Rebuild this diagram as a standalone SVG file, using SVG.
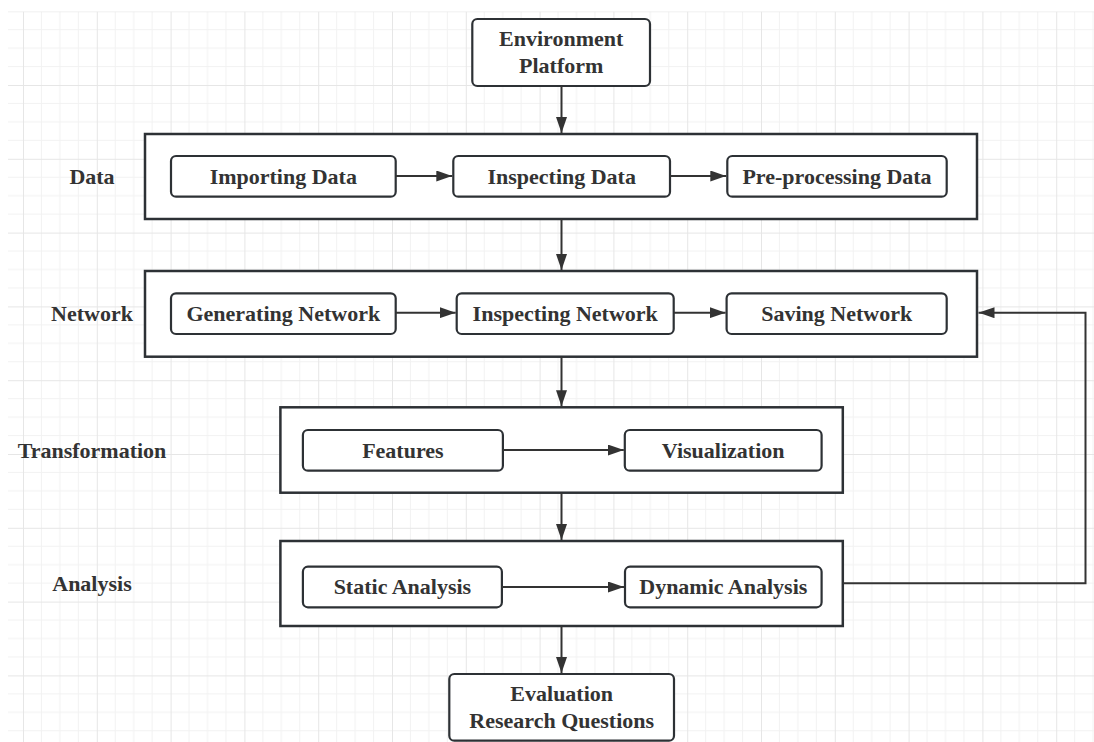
<svg xmlns="http://www.w3.org/2000/svg" width="1094" height="742" viewBox="0 0 1094 742">
  <defs>
    <pattern id="grid" patternUnits="userSpaceOnUse" x="23" y="11.2" width="73.8" height="73.8">
      <path d="M18.45 0V73.8M36.9 0V73.8M55.35 0V73.8M0 18.45H73.8M0 36.9H73.8M0 55.35H73.8" stroke="#f2f2f2" stroke-width="1" fill="none"/>
      <path d="M0.5 0V73.8M0 0.5H73.8" stroke="#e6e6e6" stroke-width="1" fill="none"/>
    </pattern>
    <marker id="arrow" markerUnits="userSpaceOnUse" markerWidth="16" markerHeight="11" refX="16" refY="5.5" orient="auto">
      <path d="M0 0L16 5.5L0 11Z" fill="#333"/>
    </marker>
    <style>
      .stage { fill: #fff; stroke: #2d3135; stroke-width: 2.5; }
      .box { fill: #fff; stroke: #2d3135; stroke-width: 2.2; }
      .txt { font-family: "Liberation Serif", "Times New Roman", serif; font-weight: bold; font-size: 22px; fill: #333; text-anchor: middle; }
      .conn { stroke: #333; stroke-width: 2; fill: none; }
    </style>
  </defs>

  <!-- background grid -->
  <rect width="1094" height="742" fill="#fff"/>
  <rect x="8" y="11.5" width="1086" height="731" fill="url(#grid)"/>

  <!-- stage labels -->
  <g id="label-data"><text class="txt" x="92" y="183.5">Data</text></g>
  <g id="label-network"><text class="txt" x="92" y="320.5">Network</text></g>
  <g id="label-transformation"><text class="txt" x="92" y="457.5">Transformation</text></g>
  <g id="label-analysis"><text class="txt" x="92" y="591">Analysis</text></g>

  <!-- stage containers -->
  <g id="stage-data"><rect class="stage" x="145" y="134" width="832" height="85"/></g>
  <g id="stage-network"><rect class="stage" x="145" y="271" width="832" height="85.7"/></g>
  <g id="stage-transformation"><rect class="stage" x="280.4" y="407.3" width="562.4" height="85.4"/></g>
  <g id="stage-analysis"><rect class="stage" x="280.4" y="541" width="562.4" height="85"/></g>

  <!-- nodes -->
  <g id="environment-platform">
    <rect class="box" x="472.3" y="19" width="177.7" height="67" rx="5"/>
    <text class="txt" x="561.2" y="46">Environment</text>
    <text class="txt" x="561.2" y="73">Platform</text>
  </g>
  <g id="importing-data">
    <rect class="box" x="171" y="156" width="224.7" height="40.7" rx="5"/>
    <text class="txt" x="283.3" y="183.5">Importing Data</text>
  </g>
  <g id="inspecting-data">
    <rect class="box" x="453.3" y="156" width="216.7" height="40.7" rx="5"/>
    <text class="txt" x="561.7" y="183.5">Inspecting Data</text>
  </g>
  <g id="preprocessing-data">
    <rect class="box" x="727.3" y="156" width="219.4" height="40.7" rx="5"/>
    <text class="txt" x="837" y="183.5">Pre-processing Data</text>
  </g>
  <g id="generating-network">
    <rect class="box" x="171" y="293.3" width="224.7" height="40.7" rx="5"/>
    <text class="txt" x="283.3" y="320.5">Generating Network</text>
  </g>
  <g id="inspecting-network">
    <rect class="box" x="456.7" y="293.3" width="217" height="40.7" rx="5"/>
    <text class="txt" x="565.2" y="320.5">Inspecting Network</text>
  </g>
  <g id="saving-network">
    <rect class="box" x="726.6" y="293.3" width="220.1" height="40.7" rx="5"/>
    <text class="txt" x="836.7" y="320.5">Saving Network</text>
  </g>
  <g id="features">
    <rect class="box" x="302.9" y="430" width="200" height="40.7" rx="5"/>
    <text class="txt" x="402.9" y="457.5">Features</text>
  </g>
  <g id="visualization">
    <rect class="box" x="624.8" y="430" width="196.8" height="40.7" rx="5"/>
    <text class="txt" x="723.2" y="457.5">Visualization</text>
  </g>
  <g id="static-analysis">
    <rect class="box" x="302.9" y="566.7" width="199" height="40.6" rx="5"/>
    <text class="txt" x="402.4" y="594">Static Analysis</text>
  </g>
  <g id="dynamic-analysis">
    <rect class="box" x="625" y="566.7" width="196.6" height="40.6" rx="5"/>
    <text class="txt" x="723.3" y="594">Dynamic Analysis</text>
  </g>
  <g id="evaluation">
    <rect class="box" x="449.3" y="674" width="224.7" height="66.7" rx="5"/>
    <text class="txt" x="561.7" y="700.5">Evaluation</text>
    <text class="txt" x="561.7" y="728">Research Questions</text>
  </g>

  <!-- connectors -->
  <g id="connectors" class="conn">
    <path d="M561.5 86V133" marker-end="url(#arrow)"/>
    <path d="M561.5 219V270" marker-end="url(#arrow)"/>
    <path d="M561.5 356.7V406.3" marker-end="url(#arrow)"/>
    <path d="M561.5 492.7V540" marker-end="url(#arrow)"/>
    <path d="M561.5 626V673" marker-end="url(#arrow)"/>
    <path d="M395.7 176H452.3" marker-end="url(#arrow)"/>
    <path d="M670 176H726.3" marker-end="url(#arrow)"/>
    <path d="M395.7 312.7H455.7" marker-end="url(#arrow)"/>
    <path d="M673.7 312.7H725.6" marker-end="url(#arrow)"/>
    <path d="M502.9 450H623.8" marker-end="url(#arrow)"/>
    <path d="M501.9 587H624" marker-end="url(#arrow)"/>
    <path d="M842.8 583.3H1085.5V312.7H978.5" marker-end="url(#arrow)"/>
  </g>
</svg>
